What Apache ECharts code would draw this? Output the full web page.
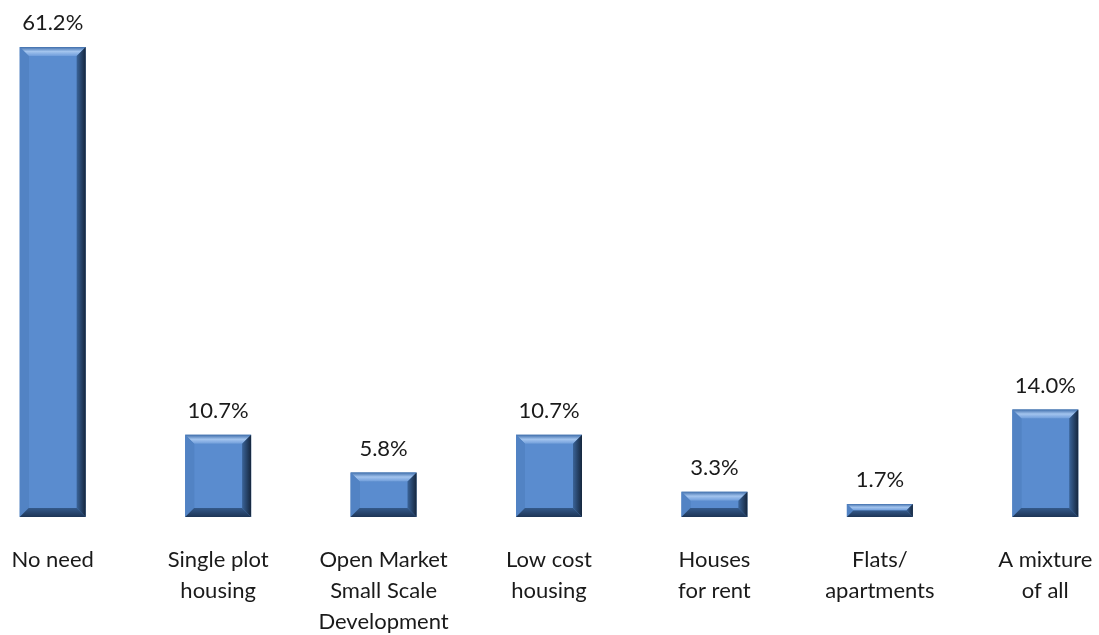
<!DOCTYPE html>
<html>
<head>
<meta charset="utf-8">
<script src="https://cdn.jsdelivr.net/npm/echarts@6/dist/echarts.min.js"></script>
<style>
  html, body { margin: 0; padding: 0; background: #fff; }
  #chart { width: 1099px; height: 635px; }
</style>
</head>
<body>
<div id="chart"></div>
<script>
var categories = ['No need', 'Single plot\nhousing', 'Open Market\nSmall Scale\nDevelopment', 'Low cost\nhousing', 'Houses\nfor rent', 'Flats/\napartments', 'A mixture\nof all'];
var values = [61.2, 10.7, 5.8, 10.7, 3.3, 1.7, 14.0];

var chart = echarts.init(document.getElementById('chart'));
var bevel = 9;

// bevelled bar like the old office charts
function renderBevel(params, api) {
  var top = api.coord([api.value(0), api.value(1)]);
  var base = api.coord([api.value(0), 0]);
  var w = 66;
  var x0 = top[0] - w / 2, x1 = top[0] + w / 2;
  var y0 = top[1], y1 = base[1];
  var b = Math.min(bevel, (y1 - y0) / 2);
  return {
    type: 'group',
    children: [
      { type: 'rect', shape: { x: x0, y: y0, width: w, height: y1 - y0 }, style: { fill: '#4f81bd' } },
      { type: 'rect', shape: { x: x0 + b, y: y0 + b, width: w - 2 * b, height: y1 - y0 - 2 * b },
        style: { fill: '#5a8ccf' } },
      { type: 'polygon', shape: { points: [[x0, y0], [x1, y0], [x1 - b, y0 + b], [x0 + b, y0 + b]] },
        style: { fill: new echarts.graphic.LinearGradient(0, 0, 0, 1, [{ offset: 0, color: '#3f6eab' }, { offset: 0.5, color: '#a3c4ee' }, { offset: 1, color: '#6f9ddb' }]) } },
      { type: 'polygon', shape: { points: [[x0, y0], [x0 + b, y0 + b], [x0 + b, y1 - b], [x0, y1]] },
        style: { fill: '#5283c4' } },
      { type: 'polygon', shape: { points: [[x1, y0], [x1 - b, y0 + b], [x1 - b, y1 - b], [x1, y1]] },
        style: { fill: new echarts.graphic.LinearGradient(0, 0, 1, 0, [{ offset: 0, color: '#3a6398' }, { offset: 1, color: '#15263d' }]) } },
      { type: 'polygon', shape: { points: [[x0, y1], [x0 + b, y1 - b], [x1 - b, y1 - b], [x1, y1]] },
        style: { fill: new echarts.graphic.LinearGradient(0, 0, 0, 1, [{ offset: 0, color: '#34598a' }, { offset: 1, color: '#1d3556' }]) } }
    ]
  };
}

var option = {
  animation: false,
  textStyle: { fontFamily: 'Lato', color: '#1a1a1a' },
  grid: { left: -30, right: -29, top: 47, bottom: 118, outerBoundsMode: 'none', containLabel: false },
  xAxis: {
    type: 'category',
    data: categories,
    axisLine: { show: false },
    axisTick: { show: false },
    axisLabel: { interval: 0, fontSize: 22, lineHeight: 31, margin: 27, color: '#1a1a1a', fontFamily: 'Lato' }
  },
  yAxis: {
    type: 'value',
    min: 0,
    max: 61.2,
    show: false,
    splitLine: { show: false }
  },
  series: [
    {
      type: 'bar',
      data: values,
      barWidth: 66,
      itemStyle: { color: 'rgba(0,0,0,0)' },
      label: {
        show: true,
        position: 'top',
        distance: 13,
        fontSize: 22,
        color: '#1a1a1a',
        fontFamily: 'Lato',
        formatter: function (p) { return p.value.toFixed(1) + '%'; }
      },
      z: 3
    },
    {
      type: 'custom',
      renderItem: renderBevel,
      data: values.map(function (v, i) { return [i, v]; }),
      z: 2
    }
  ]
};

chart.setOption(option);
</script>
</body>
</html>
